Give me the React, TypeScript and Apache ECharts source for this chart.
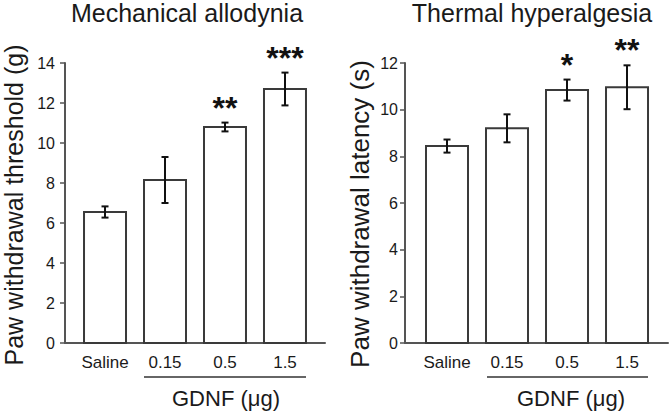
import React, { useEffect, useRef } from "react";
import * as echarts from "echarts";

const categories = ["Saline", "0.15", "0.5", "1.5"];
const mechMeans = [6.55, 8.15, 10.8, 12.7];
const mechErrors = [0.28, 1.15, 0.22, 0.82];
const mechStars = ["", "", "**", "***"];
const thermMeans = [8.44, 9.2, 10.84, 10.96];
const thermErrors = [0.28, 0.6, 0.45, 0.94];
const thermStars = ["", "", "*", "**"];
const mechTicks = { min: 0, max: 14, interval: 2 };
const thermTicks = { min: 0, max: 12, interval: 2 };

const FONT = "Liberation Sans, Arial, sans-serif";
const TEXT = "#1a1a1a";
const AXIS = "#555";

function makeSeries(means: number[], errs: number[], stars: string[], idx: number) {
  const data = means.map((m, i) => [i, m, errs[i]]);
  return {
    type: "custom",
    xAxisIndex: idx,
    yAxisIndex: idx,
    clip: false,
    data,
    renderItem: (params: any, api: any) => {
      const x = api.value(0);
      const m = api.value(1);
      const e = api.value(2);
      const s = stars[params.dataIndex];
      const base = api.coord([x, 0]);
      const top = api.coord([x, m]);
      const hi = api.coord([x, m + e]);
      const lo = api.coord([x, m - e]);
      const w = api.size([0.7, 0])[0];
      const cap = 3.5;
      const children: any[] = [
        {
          type: "rect",
          shape: { x: top[0] - w / 2, y: top[1], width: w, height: base[1] - top[1] },
          style: { fill: "#fff", stroke: "#3a3a3a", lineWidth: 2 },
        },
        {
          type: "line",
          shape: { x1: hi[0], y1: hi[1], x2: lo[0], y2: lo[1] },
          style: { stroke: "#111", lineWidth: 2 },
        },
        {
          type: "line",
          shape: { x1: hi[0] - cap, y1: hi[1], x2: hi[0] + cap, y2: hi[1] },
          style: { stroke: "#111", lineWidth: 2 },
        },
        {
          type: "line",
          shape: { x1: lo[0] - cap, y1: lo[1], x2: lo[0] + cap, y2: lo[1] },
          style: { stroke: "#111", lineWidth: 2 },
        },
      ];
      if (s) {
        children.push({
          type: "text",
          style: {
            text: s,
            x: hi[0],
            y: hi[1] - 15,
            align: "center",
            verticalAlign: "middle",
            font: `bold 32px ${FONT}`,
            fill: "#111",
          },
        });
      }
      return { type: "group", children };
    },
  };
}

function xAxis(idx: number, min: number, max: number) {
  return {
    type: "value",
    gridIndex: idx,
    min,
    max,
    axisLine: { show: true, onZero: false, lineStyle: { color: AXIS, width: 2 } },
    axisTick: { show: false },
    splitLine: { show: false },
    axisLabel: {
      customValues: [0, 1, 2, 3],
      formatter: (v: number) => categories[Math.round(v)] ?? "",
      fontSize: 17,
      fontFamily: FONT,
      color: TEXT,
      margin: 11,
    },
  };
}

function yAxis(idx: number, t: { min: number; max: number; interval: number }, margin: number) {
  return {
    type: "value",
    gridIndex: idx,
    min: t.min,
    max: t.max,
    interval: t.interval,
    axisLine: { show: true, onZero: false, lineStyle: { color: AXIS, width: 2 } },
    axisTick: { show: true, length: 5, lineStyle: { color: AXIS, width: 1.5 } },
    splitLine: { show: false },
    axisLabel: { fontSize: 16, fontFamily: FONT, color: TEXT, margin },
  };
}

export default function App() {
  const ref = useRef<HTMLDivElement>(null);
  useEffect(() => {
    if (!ref.current) return;
    const chart = echarts.init(ref.current, null, { renderer: "svg" });
    chart.setOption({
      animation: false,
      backgroundColor: "#fff",
      grid: [
        { left: 65, top: 63, width: 260, height: 280 },
        { left: 405, top: 63, width: 263, height: 280 },
      ],
      xAxis: [xAxis(0, -0.667, 3.667), xAxis(1, -0.7, 3.683)],
      yAxis: [yAxis(0, mechTicks, 10), yAxis(1, thermTicks, 7)],
      series: [
        makeSeries(mechMeans, mechErrors, mechStars, 0),
        makeSeries(thermMeans, thermErrors, thermStars, 1),
      ],
      graphic: [
        {
          type: "text",
          x: 187,
          y: 13,
          style: { text: "Mechanical allodynia", font: `25px ${FONT}`, fill: TEXT, align: "center", verticalAlign: "middle" },
        },
        {
          type: "text",
          x: 532,
          y: 13,
          style: { text: "Thermal hyperalgesia", font: `25px ${FONT}`, fill: TEXT, align: "center", verticalAlign: "middle" },
        },
        {
          type: "text",
          x: 14,
          y: 205,
          rotation: Math.PI / 2,
          style: { text: "Paw withdrawal threshold (g)", font: `25px ${FONT}`, fill: TEXT, align: "center", verticalAlign: "middle" },
        },
        {
          type: "text",
          x: 360,
          y: 214,
          rotation: Math.PI / 2,
          style: { text: "Paw withdrawal latency (s)", font: `26px ${FONT}`, fill: TEXT, align: "center", verticalAlign: "middle" },
        },
        {
          type: "line",
          shape: { x1: 144, y1: 377, x2: 306, y2: 377 },
          style: { stroke: "#666", lineWidth: 2 },
        },
        {
          type: "line",
          shape: { x1: 487, y1: 377, x2: 648, y2: 377 },
          style: { stroke: "#666", lineWidth: 2 },
        },
        {
          type: "text",
          x: 226,
          y: 398,
          style: { text: "GDNF (μg)", font: `22px ${FONT}`, fill: TEXT, align: "center", verticalAlign: "middle" },
        },
        {
          type: "text",
          x: 571,
          y: 398,
          style: { text: "GDNF (μg)", font: `22px ${FONT}`, fill: TEXT, align: "center", verticalAlign: "middle" },
        },
      ],
    });
    return () => chart.dispose();
  }, []);
  return <div ref={ref} style={{ width: 670, height: 414, position: "absolute", left: 0, top: 0 }} />;
}
